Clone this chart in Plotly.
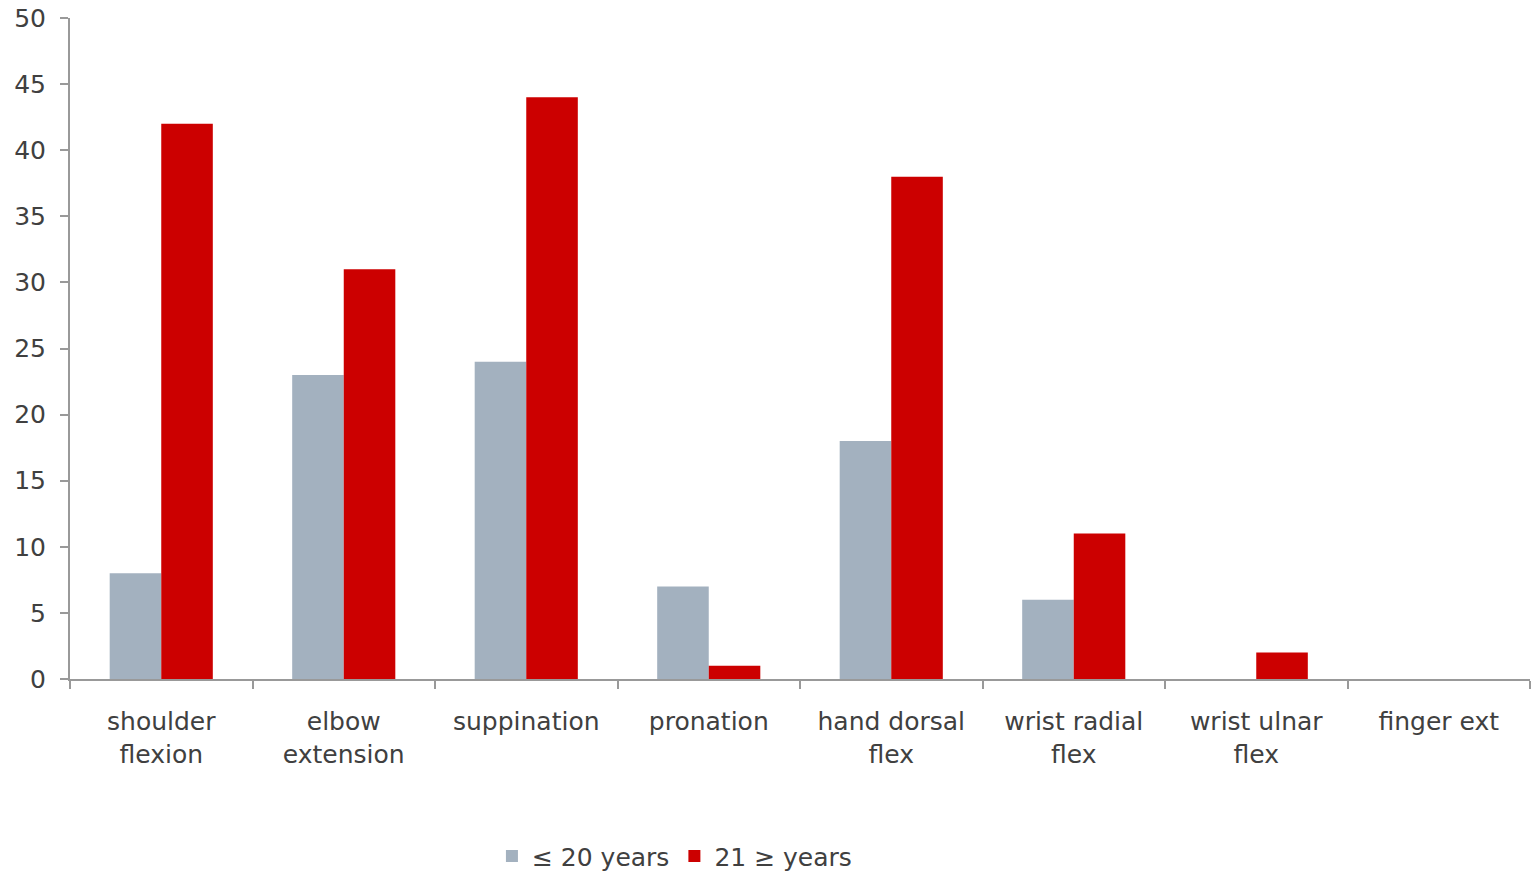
import plotly.graph_objects as go

categories = ["shoulder<br>flexion", "elbow<br>extension", "suppination", "pronation",
              "hand dorsal<br>flex", "wrist radial<br>flex", "wrist ulnar<br>flex", "finger ext"]
young = [8, 23, 24, 7, 18, 6, 0, 0]
older = [42, 31, 44, 1, 38, 11, 2, 0]
series_names = ["≤ 20 years", "21 ≥ years"]
y_ticks = [0, 5, 10, 15, 20, 25, 30, 35, 40, 45, 50]

fig = go.Figure()
fig.add_trace(go.Bar(x=categories, y=young, name=series_names[0], marker_color="#A3B1BF",
                     marker_line_width=0))
fig.add_trace(go.Bar(x=categories, y=older, name=series_names[1], marker_color="#CC0000",
                     marker_line_width=0))

fig.update_layout(
    width=1532, height=871,
    margin=dict(l=70, r=2, t=18, b=192, autoexpand=False),
    paper_bgcolor="white", plot_bgcolor="white",
    barmode="group", bargap=0.435, bargroupgap=0,
    font=dict(family="DejaVu Sans, Verdana, sans-serif", size=25, color="#404040"),
    showlegend=True,
    legend=dict(orientation="h", x=0.414, y=-0.268, xanchor="center", yanchor="middle",
                font=dict(size=25, color="#404040"), itemwidth=30, tracegroupgap=0,
                bgcolor="rgba(0,0,0,0)"),
    xaxis=dict(showline=True, linecolor="#999999", linewidth=2, ticks="outside",
               tickson="boundaries", ticklen=8, tickcolor="#999999", tickwidth=2,
               showgrid=False, tickfont=dict(size=25, color="#404040"), fixedrange=True,
               automargin=False, ticklabelstandoff=19),
    yaxis=dict(range=[0, 50], tickvals=y_ticks, showline=True, linecolor="#999999",
               linewidth=2, ticks="outside", ticklen=8, tickcolor="#999999", tickwidth=2,
               showgrid=False, zeroline=False, tickfont=dict(size=25, color="#404040"),
               automargin=False, ticklabelstandoff=9),
)

fig.write_html("out.html")
